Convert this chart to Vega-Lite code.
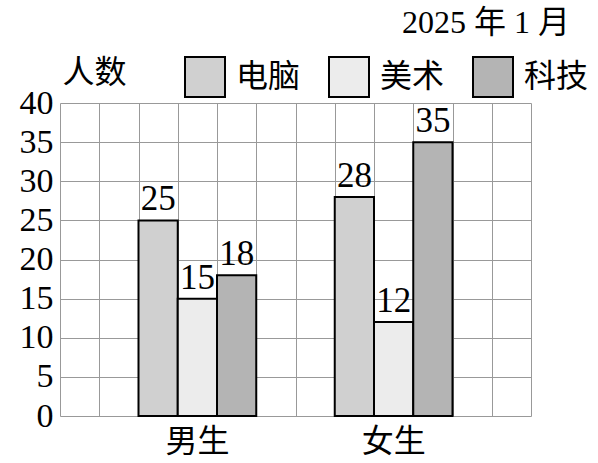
{
  "$schema": "https://vega.github.io/schema/vega-lite/v6.json",
  "autosize": "none",
  "padding": {"left": 60, "top": 103, "right": 67, "bottom": 47},
  "width": 471,
  "height": 313,
  "title": {
    "text": "2025 年 1 月",
    "anchor": "end",
    "frame": "group",
    "dx": 39,
    "dy": -12,
    "fontSize": 32,
    "fontWeight": "normal",
    "font": "Liberation Serif, Noto Sans CJK SC",
    "color": "black"
  },
  "data": {
    "values": [
      {"group": "男生", "subject": "电脑", "value": 25},
      {"group": "男生", "subject": "美术", "value": 15},
      {"group": "男生", "subject": "科技", "value": 18},
      {"group": "女生", "subject": "电脑", "value": 28},
      {"group": "女生", "subject": "美术", "value": 12},
      {"group": "女生", "subject": "科技", "value": 35}
    ]
  },
  "layer": [
    {
      "data": {"values": [{"c": 0}, {"c": 12}]},
      "mark": {"type": "point", "opacity": 0},
      "encoding": {
        "x": {
          "field": "c",
          "type": "quantitative",
          "scale": {"domain": [0, 12], "nice": false, "zero": false},
          "axis": {
            "orient": "top",
            "values": [0, 1, 2, 3, 4, 5, 6, 7, 8, 9, 10, 11, 12],
            "grid": true,
            "gridColor": "#999999",
            "gridOpacity": 1,
            "labels": false,
            "ticks": false,
            "domain": false,
            "title": null
          }
        }
      }
    },
    {
      "encoding": {
        "x": {
          "field": "group",
          "type": "nominal",
          "sort": ["男生", "女生"],
          "scale": {"paddingInner": 0.4, "paddingOuter": 0.4},
          "axis": {
            "title": null,
            "labelAngle": 0,
            "labelFontSize": 32,
            "labelPadding": 10,
            "labelFont": "Noto Sans CJK SC",
            "labelColor": "black",
            "ticks": false,
            "domain": false,
            "grid": false
          }
        },
        "xOffset": {
          "field": "subject",
          "type": "nominal",
          "sort": ["电脑", "美术", "科技"],
          "scale": {"paddingInner": 0, "paddingOuter": 0}
        },
        "y": {
          "field": "value",
          "type": "quantitative",
          "scale": {"domain": [0, 40], "nice": false},
          "axis": {
            "values": [0, 5, 10, 15, 20, 25, 30, 35, 40],
            "labelOverlap": false,
            "grid": true,
            "gridColor": "#999999",
            "gridOpacity": 1,
            "ticks": false,
            "domain": false,
            "labelFontSize": 34,
            "labelFont": "Liberation Serif",
            "labelColor": "black",
            "labelPadding": 7,
            "title": "人数",
            "titleAngle": 0,
            "titleAlign": "left",
            "titleBaseline": "bottom",
            "titleX": 2,
            "titleY": -14,
            "titleFont": "Noto Sans CJK SC",
            "titleFontSize": 32,
            "titleFontWeight": "normal",
            "titleColor": "black"
          }
        }
      },
      "layer": [
        {
          "mark": {"type": "bar", "stroke": "black", "strokeWidth": 2},
          "encoding": {
            "color": {
              "field": "subject",
              "type": "nominal",
              "sort": ["电脑", "美术", "科技"],
              "scale": {"range": ["#d0d0d0", "#ececec", "#b4b4b4"]},
              "legend": {
                "title": null,
                "orient": "none",
                "direction": "horizontal",
                "legendX": 124,
                "legendY": -47,
                "symbolType": "square",
                "symbolSize": 1600,
                "symbolStrokeColor": "black",
                "symbolStrokeWidth": 2,
                "symbolOpacity": 1,
                "labelFontSize": 32,
                "labelFont": "Noto Sans CJK SC",
                "labelColor": "black",
                "labelOffset": 10,
                "columnPadding": 24
              }
            }
          }
        },
        {
          "mark": {"type": "text", "baseline": "bottom", "dy": -3, "fontSize": 35, "font": "Liberation Serif", "color": "black"},
          "encoding": {
            "text": {"field": "value", "type": "quantitative"}
          }
        }
      ]
    }
  ],
  "resolve": {"scale": {"x": "independent"}},
  "config": {"view": {"stroke": null}}
}
